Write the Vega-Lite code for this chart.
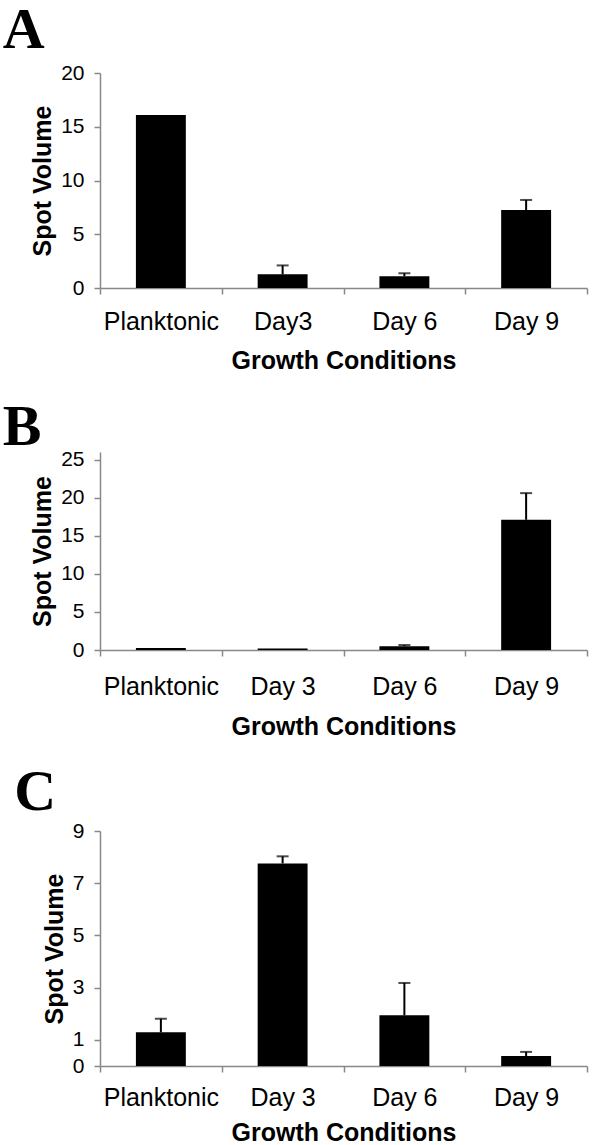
{
  "$schema": "https://vega.github.io/schema/vega-lite/v6.json",
  "padding": {"left": 2, "top": 2, "right": 10, "bottom": 0},
  "background": "white",
  "spacing": 25,
  "config": {
    "view": {"stroke": null},
    "font": "Liberation Sans",
    "axis": {"domainColor": "#888", "tickColor": "#888", "labelColor": "#000", "titleColor": "#000", "labelFont": "Liberation Sans", "titleFont": "Liberation Sans", "grid": false, "tickSize": 6, "domainWidth": 1.5, "tickWidth": 1.5},
    "axisX": {"labelFontSize": 25, "labelAngle": 0, "tickBand": "extent", "titleFontSize": 25, "titleFontWeight": "bold"},
    "axisY": {"labelFontSize": 21, "titleFontSize": 25, "titleFontWeight": "bold", "labelPadding": 10, "titlePadding": 5},
    "title": {"font": "Liberation Serif", "fontSize": 58, "fontWeight": "bold", "anchor": "start", "color": "#000", "dx": -28}
  },
  "datasets": {
    "a": [
      {"cond": "Planktonic", "value": 16.1, "hi": null},
      {"cond": "Day3", "value": 1.27, "hi": 2.1},
      {"cond": "Day 6", "value": 1.09, "hi": 1.37},
      {"cond": "Day 9", "value": 7.26, "hi": 8.19}
    ],
    "b": [
      {"cond": "Planktonic", "value": 0.25, "hi": null},
      {"cond": "Day 3", "value": 0.2, "hi": null},
      {"cond": "Day 6", "value": 0.5, "hi": 0.65},
      {"cond": "Day 9", "value": 17.1, "hi": 20.6}
    ],
    "c": [
      {"cond": "Planktonic", "value": 1.29, "hi": 1.81},
      {"cond": "Day 3", "value": 7.76, "hi": 8.03},
      {"cond": "Day 6", "value": 1.94, "hi": 3.18},
      {"cond": "Day 9", "value": 0.38, "hi": 0.54}
    ]
  },
  "vconcat": [
    {
      "title": {"text": "A", "offset": 2},
      "width": 487, "height": 215,
      "data": {"name": "a"},
      "layer": [
        {"mark": {"type": "bar", "color": "#000", "width": {"band": 0.41}},
         "encoding": {
           "x": {"field": "cond", "type": "nominal", "sort": null, "scale": {"paddingInner": 0, "paddingOuter": 0}, "axis": {"title": "Growth Conditions", "labelPadding": 15, "titlePadding": 14}},
           "y": {"field": "value", "type": "quantitative", "scale": {"domain": [0, 20]}, "axis": {"title": "Spot Volume", "values": [0, 5, 10, 15, 20]}}}},
        {"mark": {"type": "rule", "color": "#000", "strokeWidth": 2},
         "encoding": {
           "x": {"field": "cond", "type": "nominal", "sort": null, "axis": {"title": "Growth Conditions", "labelPadding": 15, "titlePadding": 14}},
           "y": {"field": "value", "type": "quantitative", "axis": {"title": "Spot Volume", "values": [0, 5, 10, 15, 20]}},
           "y2": {"field": "hi"}}},
        {"mark": {"type": "tick", "color": "#000", "thickness": 2, "size": 12},
         "encoding": {
           "x": {"field": "cond", "type": "nominal", "sort": null, "axis": {"title": "Growth Conditions", "labelPadding": 15, "titlePadding": 14}},
           "y": {"field": "hi", "type": "quantitative", "axis": {"title": "Spot Volume", "values": [0, 5, 10, 15, 20]}}}}
      ]
    },
    {
      "title": {"text": "B", "offset": -8},
      "width": 487, "height": 198,
      "data": {"name": "b"},
      "layer": [
        {"mark": {"type": "bar", "color": "#000", "width": {"band": 0.41}},
         "encoding": {
           "x": {"field": "cond", "type": "nominal", "sort": null, "scale": {"paddingInner": 0, "paddingOuter": 0}, "axis": {"title": "Growth Conditions", "labelPadding": 18, "titlePadding": 15}},
           "y": {"field": "value", "type": "quantitative", "scale": {"domain": [0, 25]}, "axis": {"title": "Spot Volume", "values": [0, 5, 10, 15, 20, 25]}}}},
        {"mark": {"type": "rule", "color": "#000", "strokeWidth": 2},
         "encoding": {
           "x": {"field": "cond", "type": "nominal", "sort": null, "axis": {"title": "Growth Conditions", "labelPadding": 18, "titlePadding": 15}},
           "y": {"field": "value", "type": "quantitative", "axis": {"title": "Spot Volume", "values": [0, 5, 10, 15, 20, 25]}},
           "y2": {"field": "hi"}}},
        {"mark": {"type": "tick", "color": "#000", "thickness": 2, "size": 12},
         "encoding": {
           "x": {"field": "cond", "type": "nominal", "sort": null, "axis": {"title": "Growth Conditions", "labelPadding": 18, "titlePadding": 15}},
           "y": {"field": "hi", "type": "quantitative", "axis": {"title": "Spot Volume", "values": [0, 5, 10, 15, 20, 25]}}}}
      ]
    },
    {
      "title": {"text": "C", "offset": -2},
      "width": 487, "height": 235,
      "data": {"name": "c"},
      "layer": [
        {"mark": {"type": "bar", "color": "#000", "width": {"band": 0.41}},
         "encoding": {
           "x": {"field": "cond", "type": "nominal", "sort": null, "scale": {"paddingInner": 0, "paddingOuter": 0}, "axis": {"title": "Growth Conditions", "labelPadding": 13, "titlePadding": 10}},
           "y": {"field": "value", "type": "quantitative", "scale": {"domain": [0, 9]}, "axis": {"title": "Spot Volume", "values": [0, 1, 3, 5, 7, 9]}}}},
        {"mark": {"type": "rule", "color": "#000", "strokeWidth": 2},
         "encoding": {
           "x": {"field": "cond", "type": "nominal", "sort": null, "axis": {"title": "Growth Conditions", "labelPadding": 13, "titlePadding": 10}},
           "y": {"field": "value", "type": "quantitative", "axis": {"title": "Spot Volume", "values": [0, 1, 3, 5, 7, 9]}},
           "y2": {"field": "hi"}}},
        {"mark": {"type": "tick", "color": "#000", "thickness": 2, "size": 12},
         "encoding": {
           "x": {"field": "cond", "type": "nominal", "sort": null, "axis": {"title": "Growth Conditions", "labelPadding": 13, "titlePadding": 10}},
           "y": {"field": "hi", "type": "quantitative", "axis": {"title": "Spot Volume", "values": [0, 1, 3, 5, 7, 9]}}}}
      ]
    }
  ]
}
